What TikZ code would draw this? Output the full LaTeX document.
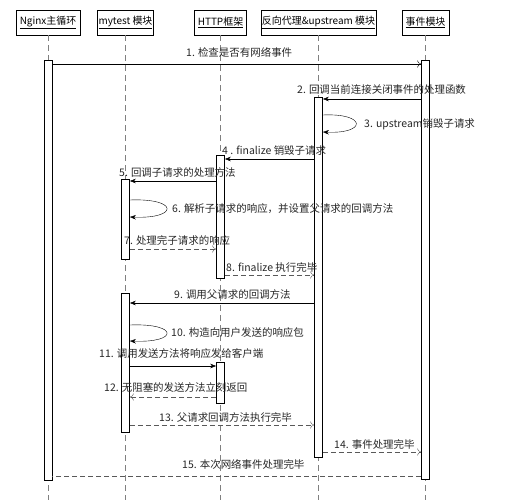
\documentclass[tikz,border=0pt]{standalone}
\usepackage{fontspec}
\setmainfont{Noto Sans CJK SC}
\usetikzlibrary{arrows.meta}
\begin{document}
\begin{tikzpicture}[x=1bp, y=-1bp, font=\fontsize{10.5}{12}\selectfont,
  head/.style={draw, line width=0.8pt, fill=white, minimum height=25bp, inner sep=1bp},
  life/.style={gray, dash pattern=on 6bp off 4bp},
  act/.style={draw, line width=0.7pt, fill=white, minimum width=8bp, inner sep=0pt, anchor=north},
  call/.style={-{Stealth[length=6bp,width=4.5bp]}},
  open/.style={-{To[length=4bp,width=7bp]}},
  back/.style={gray!70!black, dash pattern=on 5bp off 3bp, -{To[length=4bp,width=7bp]}},
  lbl/.style={anchor=west, inner sep=0pt, text=black!85}]
\useasboundingbox (0,0) rectangle (515,502);

% heads
\node[head, minimum width=64bp, font=\fontsize{10}{12}\selectfont] (ngx) at (48,22.5) {\underline{Nginx主循环}};
\node[head, minimum width=56bp, font=\fontsize{10}{12}\selectfont] (mt) at (125.5,22.5) {\underline{mytest 模块}};
\node[head, minimum width=52bp, font=\fontsize{10}{12}\selectfont] (ht) at (220.5,22.5) {\underline{HTTP框架}};
\node[head, minimum width=114bp, font=\fontsize{10}{12}\selectfont] (px) at (318.5,22.5) {\underline{反向代理\&upstream 模块}};
\node[head, minimum width=47bp, font=\fontsize{10}{12}\selectfont] (ev) at (425.5,22.5) {\underline{事件模块}};

% lifelines
\draw[life] (ngx.south) -- (ngx.south |- 0,500);
\draw[life] (mt.south) -- (mt.south |- 0,500);
\draw[life] (ht.south) -- (ht.south |- 0,500);
\draw[life] (px.south) -- (px.south |- 0,500);
\draw[life] (ev.south) -- (ev.south |- 0,500);

% activations
\node[act, minimum height=420bp] (ngxA) at (48,60) {};
\node[act, minimum height=419bp] (evA) at (425.5,60) {};
\node[act, minimum height=360bp] (pxA) at (318.5,97) {};
\node[act, minimum height=123bp] (htA1) at (220.5,155) {};
\node[act, minimum height=80bp] (mtA1) at (125.5,179) {};
\node[act, minimum height=139bp] (mtA2) at (125.5,293) {};
\node[act, minimum height=41bp] (htA2) at (220.5,362) {};

% messages
\draw[open] (ngxA.east |- 0,64) -- (evA.west |- 0,64);
\node[lbl] (l1) at (186,52) {1. 检查是否有网络事件};
\draw[call] (evA.west |- 0,99) -- (pxA.east |- 0,99);
\node[lbl] (l2) at (297,90) {2. 回调当前连接关闭事件的处理函数};
\draw[call] (pxA.east |- 0,115) .. controls +(44,-2) and +(44,2) .. (pxA.east |- 0,132);
\node[lbl] (l3) at (364,124) {3. upstream销毁子请求};
\draw[call] (pxA.west |- 0,159) -- (htA1.east |- 0,159);
\node[lbl] (l4) at (222,151) {4 . finalize 销毁子请求};
\draw[call] (htA1.west |- 0,181) -- (mtA1.east |- 0,181);
\node[lbl] (l5) at (119,173) {5. 回调子请求的处理方法};
\draw[call] (mtA1.east |- 0,200) .. controls +(49,-2) and +(49,2) .. (mtA1.east |- 0,217);
\node[lbl] (l6) at (172,209) {6. 解析子请求的响应，并设置父请求的回调方法};
\draw[back] (mtA1.east |- 0,249) -- (htA1.west |- 0,249);
\node[lbl] (l7) at (124,241) {7. 处理完子请求的响应};
\draw[back] (htA1.east |- 0,275) -- (pxA.west |- 0,275);
\node[lbl] (l8) at (226,267) {8. finalize 执行完毕};
\draw[call] (pxA.west |- 0,303) -- (mtA2.east |- 0,303);
\node[lbl] (l9) at (174,295) {9. 调用父请求的回调方法};
\draw[call] (mtA2.east |- 0,325) .. controls +(49,-2) and +(49,2) .. (mtA2.east |- 0,341);
\node[lbl] (l10) at (171,333) {10. 构造向用户发送的响应包};
\draw[call] (mtA2.east |- 0,366) -- (htA2.west |- 0,366);
\node[lbl] (l11) at (99,354) {11. 调用发送方法将响应发给客户端};
\draw[back] (htA2.west |- 0,397) -- (mtA2.east |- 0,397);
\node[lbl] (l12) at (104,387) {12. 无阻塞的发送方法立刻返回};
\draw[back] (mtA2.east |- 0,425) -- (pxA.west |- 0,425);
\node[lbl] (l13) at (159,417) {13. 父请求回调方法执行完毕};
\draw[back] (pxA.east |- 0,452) -- (evA.west |- 0,452);
\node[lbl] (l14) at (334,444) {14. 事件处理完毕};
\draw[back, -] (evA.west |- 0,476) -- (ngxA.east |- 0,476);
\node[lbl] (l15) at (182,464) {15. 本次网络事件处理完毕};
\end{tikzpicture}
\end{document}
